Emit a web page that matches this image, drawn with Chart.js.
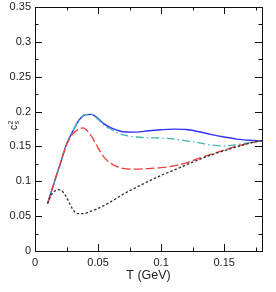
<!DOCTYPE html>
<html><head><meta charset="utf-8">
<script src="https://cdn.jsdelivr.net/npm/chart.js@4/dist/chart.umd.min.js"></script>
<style>html,body{margin:0;padding:0;background:#fff}#w{width:276px;height:292px}</style>
</head><body><div id="w"><canvas id="c"></canvas></div>
<script>
const xTicks = [0, 0.05, 0.1, 0.15];
const yTicks = [0, 0.05, 0.1, 0.15, 0.2, 0.25, 0.3, 0.35];
const xTickLabels = ["0", "0.05", "0.1", "0.15"];
const yTickLabels = ["0", "0.05", "0.1", "0.15", "0.2", "0.25", "0.3", "0.35"];

const blueT = [0.010,0.015,0.020,0.025,0.030,0.035,0.040,0.045,0.050,0.055,0.060,0.065,0.070,0.080,0.090,0.100,0.110,0.120,0.130,0.140,0.150,0.160,0.170,0.180];
const blueV = [0.068,0.097,0.125,0.153,0.172,0.188,0.1955,0.196,0.190,0.182,0.177,0.1735,0.171,0.1705,0.1725,0.174,0.1748,0.1742,0.171,0.167,0.1635,0.1605,0.1588,0.1578];

const cyanT = [0.010,0.015,0.020,0.025,0.030,0.035,0.040,0.045,0.050,0.055,0.060,0.065,0.070,0.080,0.090,0.100,0.110,0.120,0.130,0.140,0.150,0.160,0.170,0.180];
const cyanV = [0.068,0.097,0.125,0.153,0.172,0.188,0.1955,0.1955,0.189,0.180,0.175,0.170,0.1665,0.1635,0.1625,0.162,0.1605,0.158,0.155,0.152,0.1508,0.1525,0.1555,0.158];

const redT = [0.010,0.015,0.020,0.025,0.030,0.035,0.0375,0.040,0.045,0.050,0.055,0.060,0.065,0.070,0.080,0.090,0.100,0.110,0.120,0.130,0.140,0.150,0.160,0.170,0.180];
const redV = [0.068,0.097,0.125,0.152,0.168,0.175,0.1765,0.175,0.164,0.148,0.134,0.126,0.121,0.1185,0.1175,0.1183,0.1195,0.122,0.1265,0.133,0.139,0.1448,0.1505,0.1548,0.1585];

const blackT = [0.010,0.0125,0.015,0.0185,0.022,0.025,0.028,0.031,0.034,0.038,0.045,0.050,0.060,0.070,0.080,0.090,0.100,0.110,0.120,0.130,0.140,0.150,0.160,0.170,0.180];
const blackV = [0.068,0.079,0.085,0.088,0.085,0.077,0.066,0.057,0.0535,0.0535,0.0575,0.061,0.0705,0.0815,0.091,0.100,0.1085,0.116,0.1235,0.131,0.138,0.1438,0.1495,0.1545,0.1585];

const xMinor = [0.025, 0.075, 0.125, 0.175];
const yMinor = [0.025, 0.075, 0.125, 0.175, 0.225, 0.275, 0.325];

function pts(t, v){ return t.map((x,i)=>({x:x, y:v[i]})); }

const FONT = "'Liberation Sans', Arial, sans-serif";

const frame = {
  id: 'frame',
  afterDraw(chart){
    const ctx = chart.ctx, a = chart.chartArea;
    const xs = chart.scales.x, ys = chart.scales.y;
    ctx.save();
    ctx.strokeStyle = '#111';
    ctx.lineWidth = 1;
    ctx.strokeRect(Math.round(a.left)+0.5, Math.round(a.top)+0.5, Math.round(a.right-a.left), Math.round(a.bottom-a.top));
    ctx.beginPath();
    const tick = (vals, len, isX) => {
      vals.forEach(v => {
        if (isX) {
          const p = Math.round(xs.getPixelForValue(v))+0.5;
          ctx.moveTo(p, a.bottom); ctx.lineTo(p, a.bottom-len);
          ctx.moveTo(p, a.top); ctx.lineTo(p, a.top+len);
        } else {
          const p = Math.round(ys.getPixelForValue(v))+0.5;
          ctx.moveTo(a.left, p); ctx.lineTo(a.left+len, p);
          ctx.moveTo(a.right, p); ctx.lineTo(a.right-len, p);
        }
      });
    };
    tick(xTicks, 7, true); tick(xMinor, 3.5, true);
    tick(yTicks, 7, false); tick(yMinor, 3.5, false);
    ctx.stroke();
    // titles
    ctx.fillStyle = '#222';
    ctx.font = '12.5px ' + FONT;
    ctx.textAlign = 'center'; ctx.textBaseline = 'middle';
    ctx.fillText('T (GeV)', (a.left+a.right)/2, 276);
    ctx.translate(15.5, 125);
    ctx.rotate(-Math.PI/2);
    ctx.textAlign = 'left'; ctx.textBaseline = 'alphabetic';
    ctx.font = '10px ' + FONT;
    ctx.fillText('c', -5, 1.5);
    ctx.font = '7px ' + FONT;
    ctx.fillText('2', 0.5, -2.5);
    ctx.fillText('s', 0.5, 3.5);
    ctx.restore();
  }
};

new Chart(document.getElementById('c'), {
  type: 'line',
  data: {
    datasets: [
      {data: pts(blackT, blackV), borderColor: '#333', borderWidth: 1.3, borderDash: [2.5, 2]},
      {data: pts(redT, redV), borderColor: '#f03c3c', borderWidth: 1.3, borderDash: [9, 3]},
      {data: pts(cyanT, cyanV), borderColor: '#3bb5b5', borderWidth: 1.3, borderDash: [8, 3, 1.5, 3]},
      {data: pts(blueT, blueV), borderColor: '#3232f5', borderWidth: 1.4}
    ]
  },
  options: {
    responsive: true, maintainAspectRatio: false, animation: false,
    devicePixelRatio: 1,
    layout: {padding: {top: 7, right: 14, left: 0, bottom: 0}},
    elements: {point: {radius: 0}, line: {tension: 0.4, cubicInterpolationMode: 'monotone', fill: false}},
    plugins: {legend: {display: false}, tooltip: {enabled: false}},
    scales: {
      x: {
        type: 'linear', min: 0, max: 0.18,
        afterBuildTicks: s => { s.ticks = xTicks.map(v => ({value: v})); },
        afterFit: s => { s.height = 41; s.paddingLeft = 0; s.paddingRight = 0; },
        grid: {display: false, drawTicks: false},
        border: {display: false},
        ticks: {padding: 5, color: '#222', font: {family: FONT, size: 11}, maxRotation: 0,
          callback: (v, i) => xTickLabels[i]}
      },
      y: {
        type: 'linear', min: 0, max: 0.35,
        afterBuildTicks: s => { s.ticks = yTicks.map(v => ({value: v})); },
        afterFit: s => { s.width = 35; s.paddingTop = 0; s.paddingBottom = 0; },
        grid: {display: false, drawTicks: false},
        border: {display: false},
        ticks: {padding: 4, color: '#222', font: {family: FONT, size: 11},
          callback: (v, i) => yTickLabels[i]}
      }
    }
  },
  plugins: [frame]
});
</script>
</body></html>
